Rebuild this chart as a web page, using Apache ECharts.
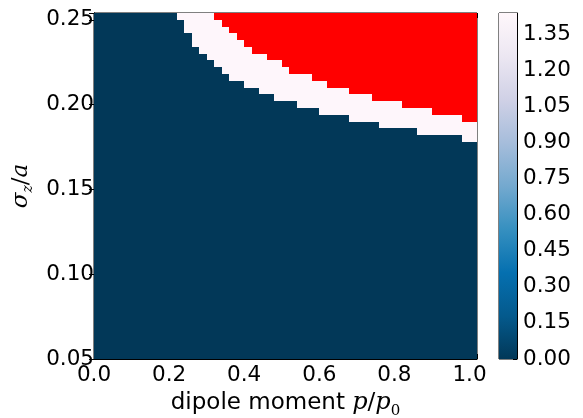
<!DOCTYPE html>
<html>
<head>
<meta charset="utf-8">
<script src="https://cdn.jsdelivr.net/npm/echarts@6/dist/echarts.min.js"></script>
<style>
  html, body { margin: 0; padding: 0; background: #ffffff; }
  #chart { width: 583px; height: 418px; }
</style>
</head>
<body>
<div id="chart"></div>
<script>
// ---- data ----
// column positions (dipole moment p/p0), lower edge of each cell
var pValues = [0.00,0.02,0.04,0.06,0.08,0.10,0.12,0.14,0.16,0.18,
               0.20,0.22,0.24,0.26,0.28,0.30,0.32,0.34,0.36,0.38,
               0.40,0.42,0.44,0.46,0.48,0.50,0.52,0.54,0.56,0.58,
               0.60,0.62,0.64,0.66,0.68,0.70,0.72,0.74,0.76,0.78,
               0.80,0.82,0.84,0.86,0.88,0.90,0.92,0.94,0.96,0.98,1.00];
// row positions (sigma_z / a), lower edge of each cell
var sigmaValues = [0.050,0.054,0.058,0.062,0.066,0.070,0.074,0.078,0.082,0.086,
                   0.090,0.094,0.098,0.102,0.106,0.110,0.114,0.118,0.122,0.126,
                   0.130,0.134,0.138,0.142,0.146,0.150,0.154,0.158,0.162,0.166,
                   0.170,0.174,0.178,0.182,0.186,0.190,0.194,0.198,0.202,0.206,
                   0.210,0.214,0.218,0.222,0.226,0.230,0.234,0.238,0.242,0.246,0.250];
// lowest sigma of the light (high value) region in each column (null = none)
var lightFrom = [null,null,null,null,null,null,null,null,null,null,null,
                 0.250,0.242,0.234,0.230,0.226,0.222,0.218,0.214,0.214,0.210,
                 0.210,0.206,0.206,0.202,0.202,0.202,0.198,0.198,0.198,0.194,
                 0.194,0.194,0.194,0.190,0.190,0.190,0.190,0.186,0.186,0.186,
                 0.186,0.186,0.182,0.182,0.182,0.182,0.182,0.182,0.178,0.178];
// lowest sigma of the red (above colour range) region in each column (null = none)
var redFrom = [null,null,null,null,null,null,null,null,null,null,null,
               null,null,null,null,null,0.250,0.246,0.242,0.238,0.234,
               0.230,0.230,0.226,0.226,0.222,0.218,0.218,0.218,0.214,0.214,
               0.210,0.210,0.210,0.206,0.206,0.206,0.202,0.202,0.202,0.202,
               0.198,0.198,0.198,0.198,0.194,0.194,0.194,0.194,0.190,0.190];
// cell values of the three regions
var lowValue = 0.0;
var highValue = 1.43;
var overValue = 1.60;
// colour bar
var cbMin = 0.0;
var cbMax = 1.437;
var cbTicks = [0.00,0.15,0.30,0.45,0.60,0.75,0.90,1.05,1.20,1.35];
var xTicks = [0.0,0.2,0.4,0.6,0.8,1.0];
var yTicks = [0.05,0.10,0.15,0.20,0.25];
var puBuR = ['#023858','#045a8d','#0570b0','#3690c0','#74a9cf','#a6bddb','#d0d1e6','#ece7f2','#fff7fb'];

// ---- build cells ----
var cellW = pValues[1] - pValues[0];
var cellH = sigmaValues[1] - sigmaValues[0];
var cells = [];
for (var i = 0; i < pValues.length; i++) {
  for (var j = 0; j < sigmaValues.length; j++) {
    var s = sigmaValues[j];
    var v = lowValue;
    if (redFrom[i] !== null && s >= redFrom[i] - 1e-9) v = overValue;
    else if (lightFrom[i] !== null && s >= lightFrom[i] - 1e-9) v = highValue;
    cells.push([pValues[i], s, v]);
  }
}
var xMax = pValues[pValues.length - 1] + cellW;
var yMin = sigmaValues[0];
var yMax = sigmaValues[sigmaValues.length - 1] + cellH;

function onTick(v, list) {
  for (var k = 0; k < list.length; k++) if (Math.abs(v - list[k]) < 1e-6) return true;
  return false;
}

var FONT = 'DejaVu Sans';
var FS = 21.5;
var chart = echarts.init(document.getElementById('chart'), null, {renderer: 'canvas'});
var option = {
  animation: false,
  backgroundColor: '#ffffff',
  grid: [
    {left: 94, top: 13, width: 383, height: 346, containLabel: false, outerBoundsMode: 'none',
     show: true, borderColor: '#000', borderWidth: 1, backgroundColor: 'transparent'},
    {left: 499, top: 13, width: 18, height: 346, containLabel: false, outerBoundsMode: 'none',
     show: true, borderColor: '#000', borderWidth: 1, backgroundColor: 'transparent'}
  ],
  visualMap: {
    type: 'continuous', show: false, seriesIndex: 0, dimension: 2,
    min: cbMin, max: cbMax, range: [cbMin, cbMax - 0.001],
    inRange: {color: puBuR},
    outOfRange: {color: ['#ff0000']}
  },
  xAxis: [
    {type: 'value', gridIndex: 0, min: 0, max: xMax, interval: 0.2, position: 'bottom',
     name: '{n|dipole moment }{i|p}{n|/}{i|p}{s|0}', nameLocation: 'middle', nameGap: 29,
     nameTextStyle: {rich: {
       n: {fontFamily: FONT, fontSize: 23, color: '#000', verticalAlign: 'bottom', lineHeight: 27},
       i: {fontFamily: 'DejaVu Serif', fontStyle: 'italic', fontSize: 24, color: '#000', verticalAlign: 'bottom', lineHeight: 27},
       s: {fontFamily: 'DejaVu Serif', fontSize: 15, color: '#000', verticalAlign: 'bottom', lineHeight: 20, padding: [0,0,-4,0]}
     }},
     axisLine: {show: true, lineStyle: {color: '#000', width: 1}},
     axisTick: {show: true, inside: true, length: 5, lineStyle: {color: '#000'}},
     splitLine: {show: false},
     axisLabel: {show: true, margin: 5, color: '#000', fontFamily: FONT, fontSize: FS,
       formatter: function (v) { return onTick(v, xTicks) ? v.toFixed(1) : ''; }}},
    {type: 'value', gridIndex: 0, min: 0, max: xMax, interval: 0.2, position: 'top',
     axisLine: {show: true, lineStyle: {color: '#000', width: 1}},
     axisTick: {show: true, inside: true, length: 5, lineStyle: {color: '#000'}},
     splitLine: {show: false}, axisLabel: {show: false}},
    {type: 'category', gridIndex: 1, data: ['cb'], show: false, boundaryGap: true}
  ],
  yAxis: [
    {type: 'value', gridIndex: 0, min: yMin, max: yMax, interval: 0.05, position: 'left',
     name: '{i|σ}{s|z}{n|/}{i|a}', nameLocation: 'middle', nameGap: 45, nameRotate: 90,
     nameTextStyle: {rich: {
       n: {fontFamily: 'DejaVu Serif', fontSize: 23, color: '#000', verticalAlign: 'bottom', lineHeight: 26},
       i: {fontFamily: 'DejaVu Serif', fontStyle: 'italic', fontSize: 23, color: '#000', verticalAlign: 'bottom', lineHeight: 26},
       s: {fontFamily: 'DejaVu Serif', fontStyle: 'italic', fontSize: 14, color: '#000', verticalAlign: 'bottom', lineHeight: 19, padding: [0,0,-3,0]}
     }},
     axisLine: {show: true, lineStyle: {color: '#000', width: 1}},
     axisTick: {show: true, inside: true, length: 5, lineStyle: {color: '#000'}},
     splitLine: {show: false},
     axisLabel: {show: true, margin: 0, padding: [0,0,3,0], color: '#000', fontFamily: FONT, fontSize: FS,
       formatter: function (v) { return onTick(v, yTicks) ? v.toFixed(2) : ''; }}},
    {type: 'value', gridIndex: 0, min: yMin, max: yMax, interval: 0.05, position: 'right',
     axisLine: {show: true, lineStyle: {color: '#000', width: 1}},
     axisTick: {show: true, inside: true, length: 5, lineStyle: {color: '#000'}},
     splitLine: {show: false}, axisLabel: {show: false}},
    {type: 'value', gridIndex: 1, min: cbMin, max: cbMax, interval: 0.15, position: 'right',
     axisLine: {show: true, lineStyle: {color: '#000', width: 1}},
     axisTick: {show: true, inside: true, length: 4, lineStyle: {color: '#000'}},
     splitLine: {show: false},
     axisLabel: {show: true, margin: 6, color: '#000', fontFamily: FONT, fontSize: FS,
       formatter: function (v) { return onTick(v, cbTicks) ? v.toFixed(2) : ''; }}}
  ],
  series: [
    {
      type: 'custom', xAxisIndex: 0, yAxisIndex: 0, clip: true,
      data: cells,
      encode: {x: 0, y: 1},
      renderItem: function (params, api) {
        var x = api.value(0), y = api.value(1);
        var a = api.coord([x, y]);
        var b = api.coord([x + cellW, y + cellH]);
        var x0 = Math.round(Math.min(a[0], b[0])), x1 = Math.round(Math.max(a[0], b[0]));
        var y0 = Math.round(Math.min(a[1], b[1])), y1 = Math.round(Math.max(a[1], b[1]));
        return {type: 'rect', shape: {x: x0, y: y0, width: x1 - x0, height: y1 - y0},
                style: {fill: api.visual('color'), stroke: null}};
      },
      z: 1
    },
    {
      type: 'bar', xAxisIndex: 2, yAxisIndex: 2, barWidth: '100%',
      data: [cbMax], silent: true,
      itemStyle: {color: {type: 'linear', x: 0, y: 1, x2: 0, y2: 0,
        colorStops: puBuR.map(function (c, k) { return {offset: k / (puBuR.length - 1), color: c}; })}},
      z: 1
    }
  ]
};
chart.setOption(option);
</script>
</body>
</html>
